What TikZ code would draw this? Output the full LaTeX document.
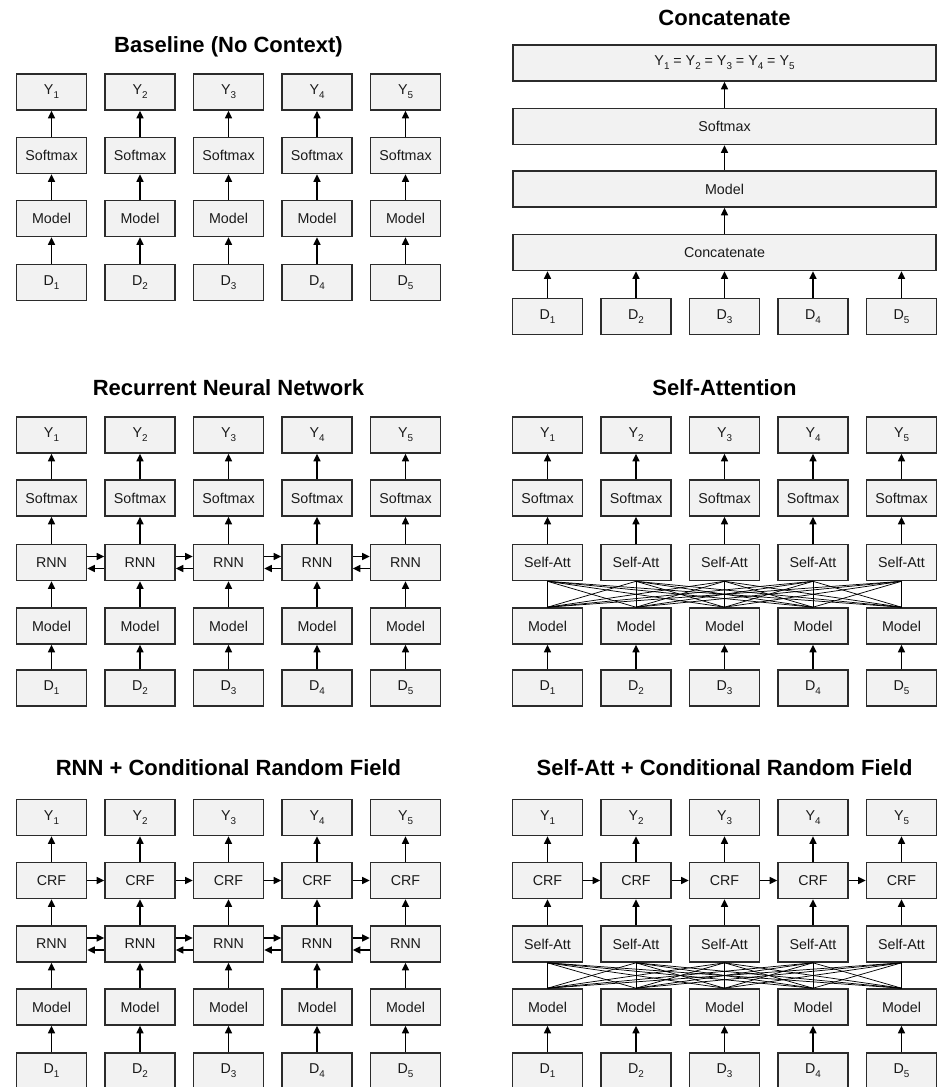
\documentclass[tikz,border=0pt]{standalone}
\usepackage{fontspec}
\setmainfont{Liberation Sans}
\usetikzlibrary{arrows.meta,positioning,calc}
\definecolor{bink}{HTML}{1A1A1A}
\definecolor{bline}{HTML}{2B2B2B}
\definecolor{bfill}{HTML}{F2F2F2}
\newcommand{\idx}[1]{\raisebox{-3pt}{\fontsize{7.4}{7.4}\selectfont #1}}
\begin{document}
\begin{tikzpicture}[x=0.75pt,y=-0.75pt,
  font=\fontsize{10.7}{12}\selectfont,
  box/.style={draw=bline,fill=bfill,line width=1.2pt,minimum width=52.5pt,
              minimum height=27pt,inner sep=1pt,text=bink},
  wide/.style={box,minimum width=317pt},
  ptitle/.style={font=\fontsize{16.5}{18}\selectfont\bfseries,text=black},
  arr/.style={-{Triangle[length=5.6pt,width=5.2pt]},line width=1.2pt,black},
  att/.style={line width=0.55pt,black}]
\useasboundingbox (0,0) rectangle (938,1087);
% Baseline (no context)
\node[ptitle] (t-base) at (228.5,47) {Baseline (No Context)};
\foreach \i [evaluate=\i as \x using 51.5+88.5*(\i-1)] in {1,...,5}{
  \node[box] (by\i) at (\x,92) {Y\idx{\i}};
  \node[box] (bs\i) at (\x,155.5) {Softmax};
  \node[box] (bm\i) at (\x,218.5) {Model};
  \node[box] (bd\i) at (\x,282.5) {D\idx{\i}};
  \draw[arr] (bd\i) -- (bm\i);
  \draw[arr] (bm\i) -- (bs\i);
  \draw[arr] (bs\i) -- (by\i);
}
% Concatenate
\node[ptitle] (t-cat) at (724.5,18) {Concatenate};
\node[wide] (cy) at (724.5,63) {Y\idx{1} = Y\idx{2} = Y\idx{3} = Y\idx{4} = Y\idx{5}};
\node[wide] (cs) at (724.5,126.5) {Softmax};
\node[wide] (cm) at (724.5,189) {Model};
\node[wide] (cc) at (724.5,252.5) {Concatenate};
\draw[arr] (cc) -- (cm); \draw[arr] (cm) -- (cs); \draw[arr] (cs) -- (cy);
\foreach \i [evaluate=\i as \x using 547.5+88.5*(\i-1)] in {1,...,5}{
  \node[box] (cd\i) at (\x,316.5) {D\idx{\i}};
  \draw[arr] (cd\i) -- (cd\i |- cc.south);
}
% Recurrent neural network
\node[ptitle] (t-rnn) at (228.5,388) {Recurrent Neural Network};
\foreach \i [evaluate=\i as \x using 51.5+88.5*(\i-1)] in {1,...,5}{
  \node[box] (ry\i) at (\x,435) {Y\idx{\i}};
  \node[box] (rs\i) at (\x,498) {Softmax};
  \node[box] (rr\i) at (\x,562.5) {RNN};
  \node[box] (rm\i) at (\x,626) {Model};
  \node[box] (rd\i) at (\x,688) {D\idx{\i}};
  \draw[arr] (rd\i) -- (rm\i);
  \draw[arr] (rm\i) -- (rr\i);
  \draw[arr] (rr\i) -- (rs\i);
  \draw[arr] (rs\i) -- (ry\i);
}
\foreach \i [evaluate=\i as \j using int(\i+1)] in {1,...,4}{
  \draw[arr] ([yshift=4.5pt]rr\i.east) -- ([yshift=4.5pt]rr\j.west);
  \draw[arr] ([yshift=-4.5pt]rr\j.west) -- ([yshift=-4.5pt]rr\i.east);
}
% Self-attention
\node[ptitle] (t-att) at (724.5,388) {Self-Attention};
\foreach \i [evaluate=\i as \x using 547.5+88.5*(\i-1)] in {1,...,5}{
  \node[box] (ay\i) at (\x,435) {Y\idx{\i}};
  \node[box] (as\i) at (\x,498) {Softmax};
  \node[box] (aa\i) at (\x,562.5) {Self-Att};
  \node[box] (am\i) at (\x,626) {Model};
  \node[box] (ad\i) at (\x,688) {D\idx{\i}};
  \draw[arr] (ad\i) -- (am\i);
  \draw[arr] (aa\i) -- (as\i);
  \draw[arr] (as\i) -- (ay\i);
}
\foreach \i in {1,...,5}{
  \foreach \j in {1,...,5}{
    \draw[att] (am\i.north) -- (aa\j.south);
  }
}
% RNN + CRF
\node[ptitle] (t-rcrf) at (228.5,768) {RNN + Conditional Random Field};
\foreach \i [evaluate=\i as \x using 51.5+88.5*(\i-1)] in {1,...,5}{
  \node[box] (ky\i) at (\x,817.5) {Y\idx{\i}};
  \node[box] (kc\i) at (\x,880.5) {CRF};
  \node[box] (kr\i) at (\x,944) {RNN};
  \node[box] (km\i) at (\x,1007) {Model};
  \node[box] (kd\i) at (\x,1071) {D\idx{\i}};
  \draw[arr] (kd\i) -- (km\i);
  \draw[arr] (km\i) -- (kr\i);
  \draw[arr] (kr\i) -- (kc\i);
  \draw[arr] (kc\i) -- (ky\i);
}
\foreach \i [evaluate=\i as \j using int(\i+1)] in {1,...,4}{
  \draw[arr] (kc\i) -- (kc\j);
  \draw[arr] ([yshift=4.5pt]kr\i.east) -- ([yshift=4.5pt]kr\j.west);
  \draw[arr] ([yshift=-4.5pt]kr\j.west) -- ([yshift=-4.5pt]kr\i.east);
}
% Self-Att + CRF
\node[ptitle] (t-acrf) at (724.5,768) {Self-Att + Conditional Random Field};
\foreach \i [evaluate=\i as \x using 547.5+88.5*(\i-1)] in {1,...,5}{
  \node[box] (sy\i) at (\x,817.5) {Y\idx{\i}};
  \node[box] (sc\i) at (\x,880.5) {CRF};
  \node[box] (sa\i) at (\x,944) {Self-Att};
  \node[box] (sm\i) at (\x,1007) {Model};
  \node[box] (sd\i) at (\x,1071) {D\idx{\i}};
  \draw[arr] (sd\i) -- (sm\i);
  \draw[arr] (sa\i) -- (sc\i);
  \draw[arr] (sc\i) -- (sy\i);
}
\foreach \i [evaluate=\i as \j using int(\i+1)] in {1,...,4}{
  \draw[arr] (sc\i) -- (sc\j);
}
\foreach \i in {1,...,5}{
  \foreach \j in {1,...,5}{
    \draw[att] (sm\i.north) -- (sa\j.south);
  }
}
\end{tikzpicture}
\end{document}
